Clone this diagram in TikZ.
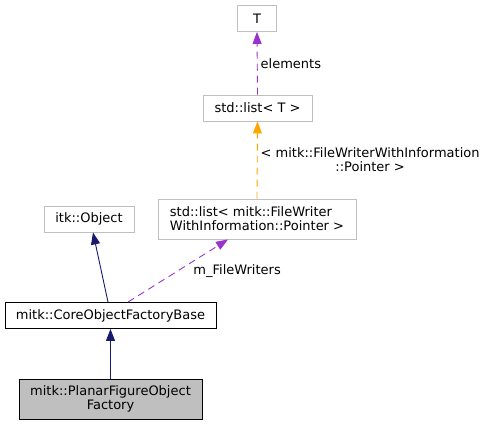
\documentclass[tikz,border=0pt]{standalone}
\usepackage{fontspec}
\setmainfont{DejaVu Sans}
\usetikzlibrary{arrows.meta}
\definecolor{boxgray}{HTML}{BFBFBF}
\definecolor{navyline}{HTML}{191970}
\definecolor{purpleline}{HTML}{9A32CD}
\definecolor{orangeline}{HTML}{FFA500}
\tikzset{
  cls/.style={draw=boxgray, line width=0.9pt, inner sep=0pt,
    font=\fontsize{13}{14.2}\selectfont, minimum height=26pt},
  inherit/.style={navyline, line width=0.9pt, -{Triangle[length=12pt,width=9pt]}},
  usage/.style={line width=0.9pt, dash pattern=on 7pt off 5pt,
    -{Triangle[length=12pt,width=9pt]}},
  lbl/.style={text=black, font=\fontsize{13}{14.2}\selectfont, inner sep=1pt}
}
\begin{document}
\begin{tikzpicture}[x=1pt,y=-1pt]
\useasboundingbox (0,0) rectangle (489,425);
%classes
\node[cls, minimum width=39pt] (t) at (257,18.5) {T};
\node[cls, minimum width=109pt] (listt) at (257.5,108) {std::list< T >};
\node[cls, minimum width=198pt, minimum height=40pt, align=left] (fwlist) at (257,219)
  {std::list< mitk::FileWriter\\WithInformation::Pointer >};
\node[cls, minimum width=90pt] (itk) at (89,219) {itk::Object};
\node[cls, draw=black, minimum width=211pt] (core) at (110.5,315.5) {mitk::CoreObjectFactoryBase};
\node[cls, draw=black, fill=boxgray, minimum width=183pt, minimum height=40pt, align=center]
  (planar) at (110.5,399) {mitk::PlanarFigureObject\\Factory};
%inheritance
\draw[inherit] (planar.north) -- (core.south);
\draw[inherit] ([xshift=-2.5pt]core.north) -- ([xshift=4pt]itk.south);
%members and templates
\draw[usage, purpleline] ([xshift=17.5pt]core.north) -- ([xshift=-29pt]fwlist.south)
  node[lbl, pos=0.5, right=14pt] {m\_FileWriters};
\draw[usage, orangeline] (fwlist.north) -- (listt.south)
  node[lbl, pos=0.5, right=2pt, align=center] {< mitk::FileWriterWithInformation\\::Pointer >};
\draw[usage, purpleline] (listt.north) -- (t.south)
  node[lbl, pos=0.5, right=2pt] {elements};
\end{tikzpicture}
\end{document}
